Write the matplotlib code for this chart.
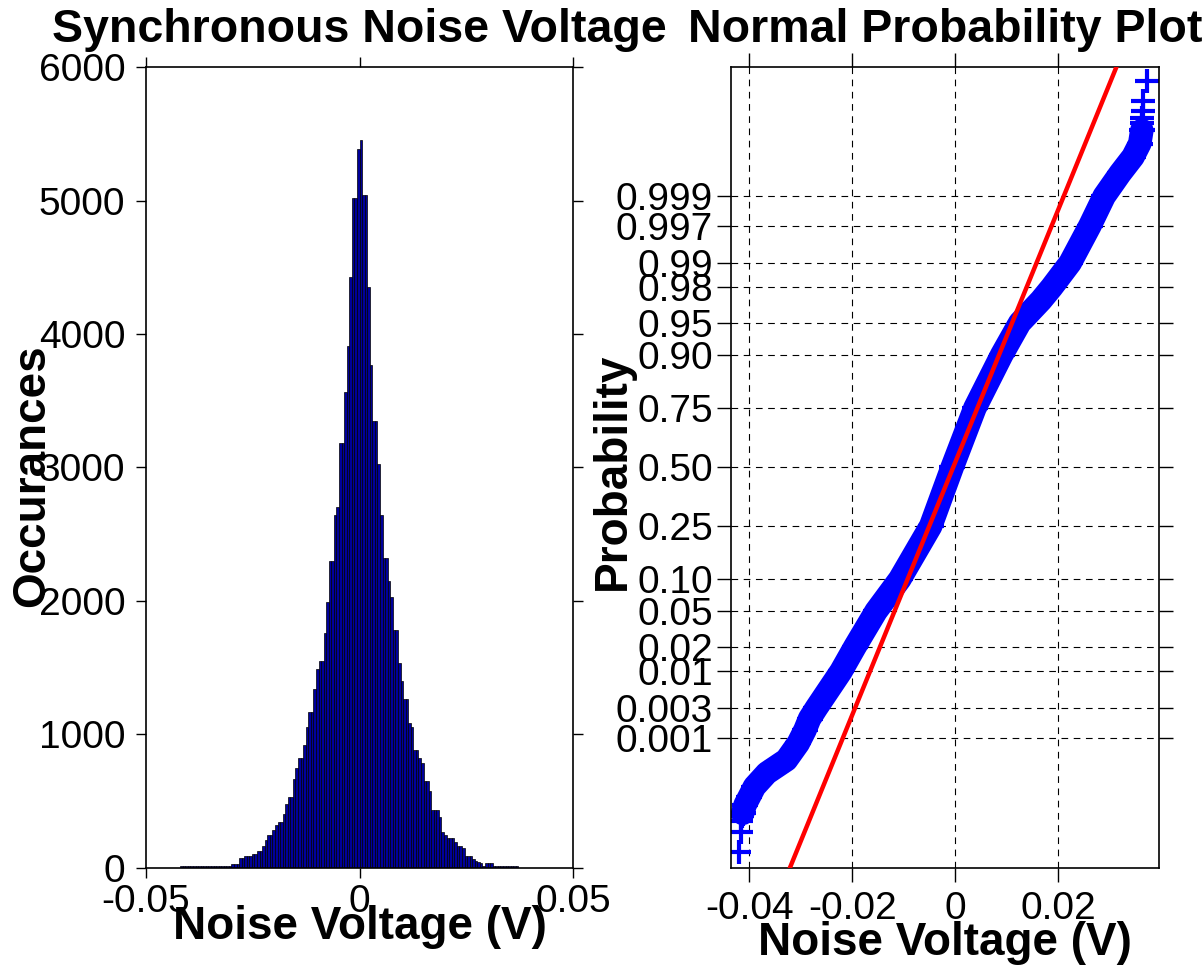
import numpy as np
import matplotlib
matplotlib.use("Agg")
import matplotlib.pyplot as plt
from statistics import NormalDist

plt.rcParams['font.family'] = ['Liberation Sans', 'DejaVu Sans']
plt.rcParams['axes.unicode_minus'] = False

# histogram of the noise, 0.6 mV bins starting at -42 mV
bin_width = 0.0006
first_edge = -0.042
hist_counts = [
    10, 10, 10, 10, 10, 10, 10, 10, 10, 10, 10, 10, 10, 10, 10, 10, 10, 10, 10, 10,
    30, 30, 30, 70, 70, 88, 88, 88, 105, 105, 128, 128, 166, 208, 243, 243, 285, 320,
    340, 340, 400, 475, 532, 532, 668, 748, 820, 820, 918, 1052, 1168, 1168, 1338,
    1493, 1553, 1553, 1763, 1994, 2300, 2300, 2646, 2703, 3180, 3180, 3565, 3908,
    4430, 5022, 5022, 5388,
    5456, 5042, 5042, 4352, 3772, 3352, 3352, 3027, 2645, 2318, 2318, 2148, 2030,
    1783, 1783, 1533, 1398, 1264, 1264, 1088, 1053, 880, 880, 823, 783, 648, 648,
    572, 435, 435, 435, 380, 265, 247, 226, 226, 226, 192, 165, 165, 145, 90, 88, 85,
    68, 52, 42, 38, 16, 34, 34, 34, 10, 10, 10, 10, 10, 10, 10, 10, 10, 10,
]

# normal probability plot: voltage vs normal quantile along the band of markers
band_voltage = [-0.0413, -0.0408, -0.0400, -0.0390, -0.0366, -0.0328, -0.0305,
                -0.0292, -0.0283, -0.0270, -0.0222, -0.0195, -0.0154, -0.0108,
                -0.0048, -0.0006, 0.0038, 0.0090, 0.0125, 0.0166, 0.0187, 0.0223,
                0.0261, 0.0289, 0.0320, 0.0345, 0.0358, 0.0362]
band_z = [-3.95, -3.85, -3.76, -3.645, -3.49, -3.34, -3.15, -3.0, -2.87, -2.75,
          -2.33, -2.05, -1.645, -1.28, -0.674, 0.0, 0.674, 1.28, 1.645, 1.9, 2.05,
          2.33, 2.75, 3.09, 3.35, 3.54, 3.69, 3.84]
# lone markers at both ends
tail_voltage = [-0.0420, -0.0417, -0.0416, -0.0414, 0.0362, 0.0363, 0.0364, 0.0364, 0.0373]
tail_z = [-4.39, -4.16, -4.04, -3.98, 3.92, 3.98, 4.06, 4.17, 4.40]

# fitted reference line
fit_mean = -0.0004
fit_sigma = 0.00694

prob_ticks = [0.001, 0.003, 0.01, 0.02, 0.05, 0.10, 0.25, 0.50, 0.75, 0.90,
              0.95, 0.98, 0.99, 0.997, 0.999]
prob_labels = ['0.001', '0.003', '0.01', '0.02', '0.05', '0.10', '0.25', '0.50',
               '0.75', '0.90', '0.95', '0.98', '0.99', '0.997', '0.999']

fig = plt.figure(figsize=(12.04, 9.65), dpi=100)
ax1 = fig.add_axes([0.1213, 0.1008, 0.3546, 0.8295])
ax2 = fig.add_axes([0.6071, 0.1008, 0.3555, 0.8295])

tick_fs = 28
label_fs = 33
title_fs = 33.5

# left: histogram
edges = first_edge + bin_width * np.arange(len(hist_counts))
ax1.bar(edges, hist_counts, width=bin_width, align='edge',
        color='#00009a', edgecolor='black', linewidth=0.5)
ax1.set_xlim(-0.05, 0.05)
ax1.set_ylim(0, 6000)
ax1.set_xticks([-0.05, 0, 0.05])
ax1.set_xticklabels(['-0.05', '0', '0.05'])
ax1.set_yticks(range(0, 6001, 1000))
ax1.set_yticklabels([str(v) for v in range(0, 6001, 1000)])
ax1.tick_params(direction='out', length=7, width=1, labelsize=tick_fs,
                top=True, right=True)
ax1.tick_params(axis='y', pad=8)
ax1.tick_params(axis='x', pad=5)
ax1.set_title('Synchronous Noise Voltage', fontsize=title_fs, fontweight='bold', y=1.0, pad=18)
ax1.set_xlabel('Noise Voltage (V)', fontsize=label_fs, fontweight='bold')
ax1.set_ylabel('Occurances', fontsize=label_fs, fontweight='bold')
ax1.xaxis.set_label_coords(0.5, -0.046)
ax1.yaxis.set_label_coords(-0.215, 0.49)

# right: normal probability plot
zlim = (-4.57, 4.56)
ax2.plot(band_voltage, band_z, color='blue', lw=17, solid_capstyle='round',
         solid_joinstyle='round', zorder=2)
ax2.plot(band_voltage, band_z, '+', color='blue', ms=19, mew=3, zorder=2)
ax2.plot(tail_voltage, tail_z, '+', color='blue', ms=17, mew=3, ls='none', zorder=2)
zl = np.array(zlim)
ax2.plot(fit_mean + fit_sigma * zl, zl, color='red', lw=3.2, zorder=3)

nd = NormalDist()
ax2.set_yticks([nd.inv_cdf(p) for p in prob_ticks])
ax2.set_yticklabels(prob_labels)
ax2.set_ylim(*zlim)
ax2.set_xlim(-0.04357, 0.03953)
ax2.set_xticks([-0.04, -0.02, 0, 0.02])
ax2.set_xticklabels(['-0.04', '-0.02', '0', '0.02'])
ax2.set_axisbelow(True)
ax2.grid(True, color='black', linestyle=(0, (6, 5)), linewidth=0.8)
ax2.tick_params(direction='out', length=10, width=1, labelsize=tick_fs,
                top=True, right=True)
ax2.tick_params(axis='y', pad=3)
ax2.tick_params(axis='x', pad=7)
ax2.set_title('Normal Probability Plot', fontsize=title_fs, fontweight='bold', y=1.0, pad=18)
ax2.set_xlabel('Noise Voltage (V)', fontsize=label_fs, fontweight='bold')
ax2.set_ylabel('Probability', fontsize=label_fs, fontweight='bold')
ax2.xaxis.set_label_coords(0.5, -0.066)
ax2.yaxis.set_label_coords(-0.225, 0.495)

for ax in (ax1, ax2):
    for s in ax.spines.values():
        s.set_linewidth(1.2)

fig.savefig('out.png', dpi=100)
